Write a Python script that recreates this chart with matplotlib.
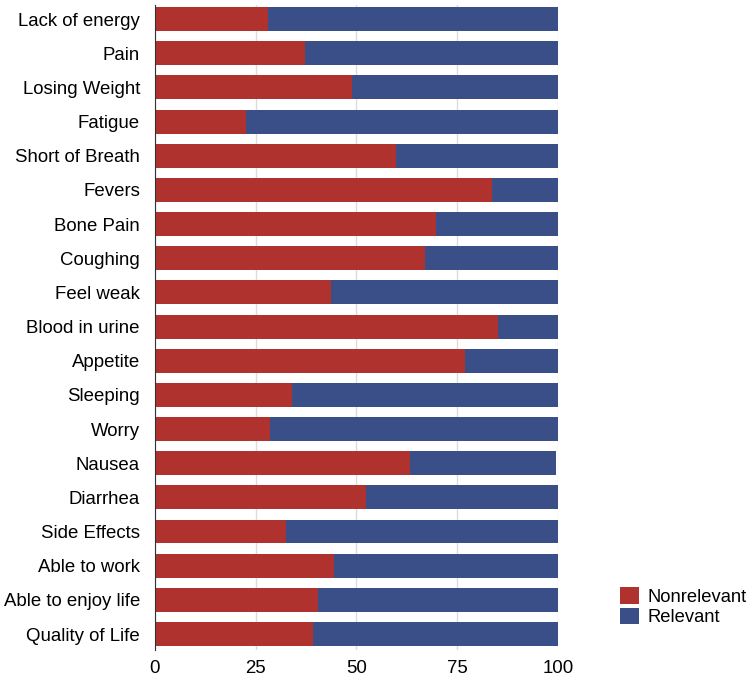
import matplotlib
matplotlib.use('Agg')
import matplotlib.pyplot as plt
import numpy as np

plt.rcParams['font.family'] = ['Liberation Sans', 'DejaVu Sans']

categories = ['Lack of energy', 'Pain', 'Losing Weight', 'Fatigue', 'Short of Breath',
              'Fevers', 'Bone Pain', 'Coughing', 'Feel weak', 'Blood in urine',
              'Appetite', 'Sleeping', 'Worry', 'Nausea', 'Diarrhea', 'Side Effects',
              'Able to work', 'Able to enjoy life', 'Quality of Life']
nonrelevant = [28.0, 37.2, 49.0, 22.6, 59.8, 83.6, 69.7, 67.0, 43.7, 85.1,
               76.9, 34.0, 28.5, 63.3, 52.4, 32.5, 44.4, 40.4, 39.2]
relevant = [72.0, 62.8, 51.0, 77.4, 40.2, 16.4, 30.3, 33.0, 56.3, 14.9,
            23.1, 66.0, 71.5, 36.2, 47.6, 67.5, 55.6, 59.6, 60.8]

red = '#B0322E'
blue = '#3A4F87'

fig = plt.figure(figsize=(7.52, 6.8), dpi=100)
ax = fig.add_axes([0.206, 0.044, 0.536, 0.949])

y = np.arange(len(categories))
ax.barh(y, nonrelevant, height=0.7, color=red, label='Nonrelevant', zorder=3)
ax.barh(y, relevant, left=nonrelevant, height=0.7, color=blue, label='Relevant', zorder=3)

ax.set_yticks(y)
ax.set_yticklabels(categories, fontsize=13.4)
ax.set_ylim(18.47, -0.42)
ax.set_xlim(0, 100)
ax.set_xticks([0, 25, 50, 75, 100])
ax.tick_params(axis='x', labelsize=13.4, length=0, pad=7)
ax.tick_params(axis='y', length=0, pad=10.8)
ax.grid(axis='x', color='#dcdcdc', linewidth=1, zorder=0)
for s in ['top', 'right', 'bottom']:
    ax.spines[s].set_visible(False)
ax.spines['left'].set_color('#333333')
ax.spines['left'].set_zorder(4)

fig.legend(loc='upper left', bbox_to_anchor=(0.808, 0.155), frameon=False, fontsize=13.2,
           handlelength=1.0, handleheight=1.0, handletextpad=0.5, labelspacing=0.1,
           borderpad=0.2)

fig.savefig('out.png', dpi=100)
